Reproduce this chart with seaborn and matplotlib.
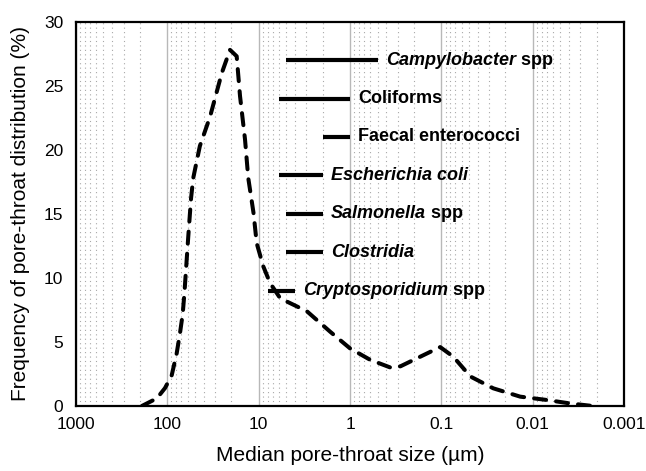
import numpy as np
import pandas as pd
import matplotlib
matplotlib.use("Agg")
import matplotlib.pyplot as plt
from matplotlib.ticker import LogLocator, NullFormatter, FixedLocator, FixedFormatter
import seaborn as sns

# pore-throat size distribution
pore_size_um = [190, 130, 106, 89.5, 79, 72.6, 67.8, 65, 59, 55, 52, 44, 34, 25.3, 20.6,
                17.4, 16.0, 14.1, 13.0, 11.4, 10.5, 8.9, 7.5, 5.8, 2.97, 1.65, 1.0, 0.6,
                0.36, 0.28, 0.17, 0.103, 0.074, 0.048, 0.027, 0.0137, 0.007, 0.0039, 0.0022]
frequency_pct = [0, 0.6, 1.4, 2.4, 4.1, 5.7, 7.2, 8.8, 13.2, 16.2, 17.8, 20.3, 22.6, 26.0, 27.8,
                 27.3, 24.2, 20.8, 17.8, 15.1, 12.7, 10.9, 9.6, 8.4, 7.4, 5.8, 4.5, 3.6,
                 3.0, 3.1, 3.85, 4.6, 3.85, 2.3, 1.38, 0.73, 0.47, 0.2, 0.0]

# organism size ranges
organisms = ['Campylobacter', 'Coliforms', 'Faecal enterococci', 'Escherichia coli',
             'Salmonella', 'Clostridia', 'Cryptosporidium']
organism_suffix = [' spp', '', '', '', ' spp', '', ' spp']
organism_italic = [True, False, False, True, True, True, True]
size_max_um = [5, 6, 2, 6, 5, 5, 8]
size_min_um = [0.5, 1, 1, 2, 2, 2, 4]
label_y = [27, 24, 21, 18, 15, 12, 9]

x_ticks = [1000, 100, 10, 1, 0.1, 0.01, 0.001]
x_ticklabels = ['1000', '100', '10', '1', '0.1', '0.01', '0.001']

sns.set_style('white')
plt.rcParams['font.family'] = ['Liberation Sans', 'DejaVu Sans']
plt.rcParams['text.color'] = 'black'
plt.rcParams['axes.labelcolor'] = 'black'

df = pd.DataFrame({'size': pore_size_um, 'freq': frequency_pct})

fig = plt.figure(figsize=(6.46, 4.71), dpi=100)
ax = fig.add_axes([0.1176, 0.138, 0.966 - 0.1176, 0.954 - 0.138])

ax.set_xscale('log')
ax.set_xlim(1000, 0.001)
ax.set_ylim(0, 30)

# grid: solid major decades, dotted minor
ax.xaxis.set_major_locator(FixedLocator(x_ticks))
ax.xaxis.set_major_formatter(FixedFormatter(x_ticklabels))
ax.xaxis.set_minor_locator(LogLocator(base=10, subs=np.arange(2, 10)))
ax.xaxis.set_minor_formatter(NullFormatter())
ax.grid(which='major', axis='x', color='#b8b8b8', lw=1.0)
ax.grid(which='minor', axis='x', color='#a8a8a8', lw=0.8, linestyle=(0, (1, 3)))
ax.grid(which='major', axis='y', visible=False)
ax.set_axisbelow(True)

sns.lineplot(data=df, x='size', y='freq', ax=ax, sort=False, estimator=None,
             color='black', lw=2.9, linestyle=(0, (3.0, 2.5)),
             dash_capstyle='round', solid_joinstyle='round')

ax.hlines(label_y, size_max_um, size_min_um, color='black', lw=3.0)

for name, suf, ital, xe, y in zip(organisms, organism_suffix, organism_italic, size_min_um, label_y):
    t = ax.annotate(name, xy=(xe, y), xytext=(6, 0), textcoords='offset points',
                    ha='left', va='center', fontsize=13, fontweight='bold', color='black',
                    fontstyle='italic' if ital else 'normal')
    if suf:
        ax.annotate(suf, xy=(1, 0), xycoords=t, ha='left', va='bottom',
                    fontsize=13, fontweight='bold', color='black')

ax.set_yticks(range(0, 31, 5))
ax.tick_params(axis='both', which='both', length=0, labelsize=12.5, colors='black')
ax.tick_params(axis='x', pad=8)
ax.tick_params(axis='y', pad=9)

for s in ax.spines.values():
    s.set_color('black')
    s.set_linewidth(1.6)

ax.set_xlabel('Median pore-throat size (µm)', fontsize=15, labelpad=10)
ax.set_ylabel('Frequency of pore-throat distribution (%)', fontsize=15, labelpad=10)

fig.savefig('out.png', dpi=100)
